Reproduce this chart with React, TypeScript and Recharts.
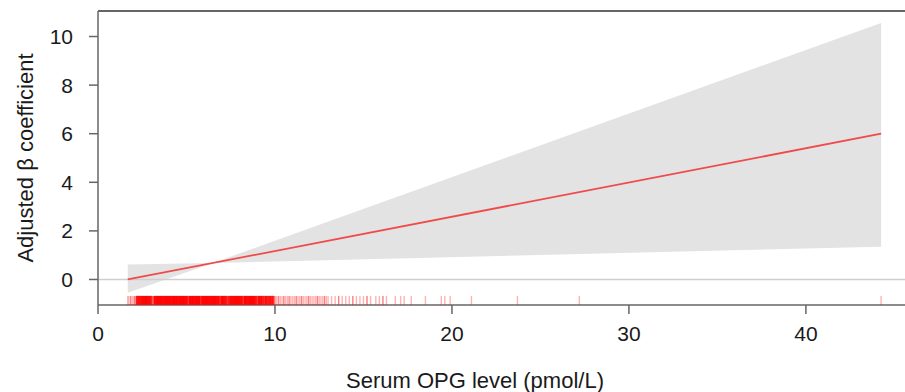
import React from 'react';
import { ComposedChart, XAxis, YAxis, Area, Line, Scatter, ReferenceLine, Label } from 'recharts';

// Axis ticks & domains
const X_TICKS = [0, 10, 20, 30, 40];
const Y_TICKS = [0, 2, 4, 6, 8, 10];
const X_DOMAIN: [number, number] = [0, 45.6];
const Y_DOMAIN: [number, number] = [-1.05, 11.05];

// Confidence band (grey ribbon)
const bandX = [1.68, 6.5, 44.25];
const bandLow = [-0.55, 0.68, 1.35];
const bandHigh = [0.62, 0.68, 10.56];

// Fitted line
const fitX = [1.68, 44.25];
const fitY = [0.0, 6.0];

// Rug: observation values and how many observations share each value
const rugX = [
  1.68, 1.75, 1.85, 1.95, 2.05, 2.12,
  2.2, 2.3, 2.4, 2.5, 2.6, 2.7, 2.8, 2.9, 3.0, 3.1,
  3.2, 3.3, 3.4, 3.5, 3.6, 3.7, 3.8, 3.9, 4.0, 4.1,
  4.2, 4.3, 4.4, 4.5, 4.6, 4.7, 4.8, 4.9, 5.0, 5.1,
  5.2, 5.3, 5.4, 5.5, 5.6, 5.7, 5.8, 5.9, 6.0, 6.1,
  6.2, 6.3, 6.4, 6.5, 6.6, 6.7, 6.8, 6.9, 7.0, 7.1,
  7.2, 7.3, 7.4, 7.5, 7.6, 7.7, 7.8, 7.9, 8.0, 8.1,
  8.2, 8.3, 8.4, 8.5, 8.6, 8.7, 8.8, 8.9, 9.0, 9.1,
  9.2, 9.3, 9.4, 9.5, 9.6, 9.7, 9.8, 9.9,
  10.0, 10.1, 10.2, 10.3, 10.4, 10.5, 10.6, 10.7, 10.8, 10.9,
  11.0, 11.1, 11.2, 11.3, 11.4, 11.5, 11.6, 11.7, 11.8, 11.9,
  12.0, 12.1, 12.2, 12.3, 12.4, 12.5, 12.6, 12.7, 12.8, 12.9, 13.0,
  13.2, 13.4, 13.6, 13.8, 14.0, 14.2, 14.4, 14.6, 14.8, 15.0,
  15.2, 15.4, 15.7, 15.9, 16.1, 16.3,
  16.8, 17.1, 17.3, 17.7, 18.5, 19.4, 19.6, 19.9, 21.1, 23.7, 27.2, 44.25,
];
const rugN = [
  1, 1, 2, 1, 2, 1,
  6, 8, 8, 9, 9, 10, 10, 10, 6, 3,
  10, 10, 10, 10, 10, 10, 10, 10, 10, 10,
  10, 10, 10, 10, 10, 10, 10, 10, 10, 4,
  10, 10, 10, 10, 10, 10, 5, 10, 10, 10,
  10, 10, 10, 10, 10, 10, 10, 4, 10, 10,
  8, 4, 5, 10, 10, 10, 10, 10, 10, 10,
  4, 10, 10, 10, 10, 10, 10, 8, 4, 8,
  8, 6, 5, 7, 5, 7, 6, 5,
  2, 1, 2, 1, 1, 2, 1, 1, 2, 1,
  1, 1, 2, 1, 1, 2, 1, 1, 1, 2,
  1, 1, 1, 1, 2, 1, 1, 1, 2, 1, 1,
  1, 1, 2, 1, 1, 1, 2, 1, 1, 1,
  2, 1, 1, 1, 2, 1,
  1, 1, 1, 1, 1, 1, 1, 1, 1, 1, 1, 1,
];
const RUG_Y = -0.86;

const bandData = bandX.map((x, i) => ({ x, band: [bandLow[i], bandHigh[i]] }));
const fitData = fitX.map((x, i) => ({ x, fit: fitY[i] }));
const rugData = rugX.map((x, i) => ({ x, r: RUG_Y, n: rugN[i] }));

const AXIS = '#666666';
const TEXT = '#1a1a1a';
const FONT = '"Liberation Sans", Arial, sans-serif';

const RugTick = (props: any) => {
  const { cx, cy, payload } = props;
  if (cx == null || cy == null) return null;
  const op = 1 - Math.pow(0.7, payload.n);
  const w = payload.n >= 4 ? 2.4 : 1.4;
  return (
    <line x1={cx} x2={cx} y1={cy - 4.5} y2={cy + 4.5} stroke="#ff0000" strokeOpacity={op} strokeWidth={w} />
  );
};

export default function App() {
  return (
    <div style={{ position: 'absolute', left: 0, top: 0, width: 905, height: 392, background: '#fff', overflow: 'hidden' }}>
      <ComposedChart
        width={905}
        height={392}
        margin={{ top: 11, right: 0, bottom: 0, left: 0 }}
        style={{ fontFamily: FONT }}
      >
        <XAxis
          dataKey="x"
          type="number"
          domain={X_DOMAIN}
          ticks={X_TICKS}
          allowDataOverflow
          height={87}
          tickSize={9}
          tickMargin={12}
          axisLine={{ stroke: AXIS, strokeWidth: 1.5 }}
          tickLine={{ stroke: AXIS, strokeWidth: 1.5 }}
          tick={{ fill: TEXT, fontSize: 21 }}
        >
          <Label
            content={() => (
              <text x={475} y={388} textAnchor="middle" fill={TEXT} fontSize={22} fontFamily={FONT}>
                Serum OPG level (pmol/L)
              </text>
            )}
          />
        </XAxis>
        <YAxis
          type="number"
          domain={Y_DOMAIN}
          ticks={Y_TICKS}
          allowDataOverflow
          width={98}
          tickSize={9}
          tickMargin={16}
          axisLine={{ stroke: AXIS, strokeWidth: 1.5 }}
          tickLine={{ stroke: AXIS, strokeWidth: 1.5 }}
          tick={{ fill: TEXT, fontSize: 21 }}
        >
          <Label
            content={() => (
              <text
                x={0}
                y={0}
                transform="translate(33, 158) rotate(-90)"
                textAnchor="middle"
                fill={TEXT}
                fontSize={22}
                fontFamily={FONT}
              >
                Adjusted β coefficient
              </text>
            )}
          />
        </YAxis>
        <Area
          data={bandData}
          dataKey="band"
          type="linear"
          stroke="none"
          fill="#e3e3e3"
          fillOpacity={1}
          isAnimationActive={false}
          activeDot={false}
        />
        <ReferenceLine y={0} stroke="#cfcfcf" strokeWidth={1.5} />
        <ReferenceLine y={Y_DOMAIN[1]} stroke={AXIS} strokeWidth={2} />
        <Line
          data={fitData}
          dataKey="fit"
          type="linear"
          stroke="#f04a4a"
          strokeWidth={1.8}
          dot={false}
          activeDot={false}
          isAnimationActive={false}
        />
        <Scatter data={rugData} dataKey="r" shape={RugTick} isAnimationActive={false} />
      </ComposedChart>
    </div>
  );
}
